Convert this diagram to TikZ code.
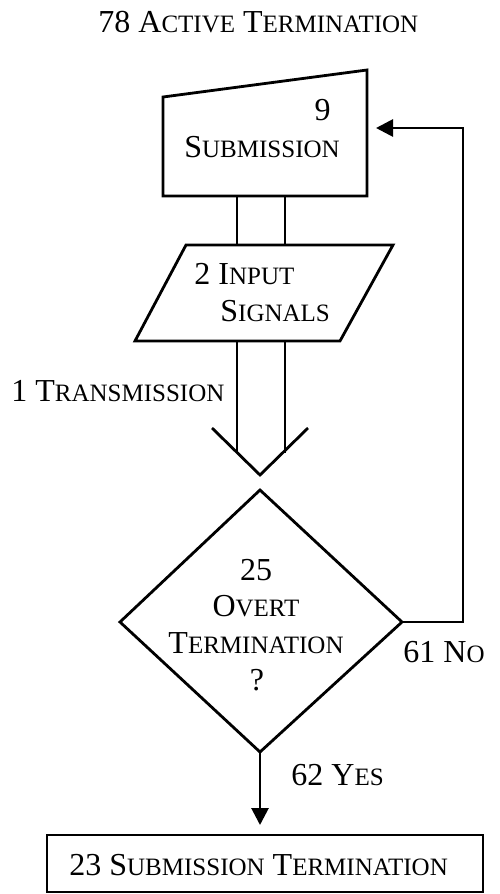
\documentclass[tikz,border=0pt]{standalone}
\usepackage{fontspec}
\setmainfont{Liberation Serif}
\usetikzlibrary{arrows.meta}
\newcommand{\smc}[1]{{\fontsize{25}{29}\selectfont #1}}
\begin{document}
\begin{tikzpicture}[x=1pt,y=-1pt,line width=2.8pt,
  lbl/.style={font=\fontsize{32}{37}\selectfont, inner sep=0pt, anchor=base west},
  clbl/.style={font=\fontsize{32}{37}\selectfont, inner sep=0pt, anchor=base},
  tip/.style={-{Triangle[length=17pt,width=17pt]}}]
\useasboundingbox (0,0) rectangle (500,894);
% title
\node[lbl] (title) at (97,32) {78 A\smc{CTIVE} T\smc{ERMINATION}};
% submission (manual input)
\coordinate (s1) at (163,97);
\coordinate (s2) at (367,70);
\coordinate (s3) at (367,196);
\coordinate (s4) at (163,196);
\draw (s1) -- (s2) -- (s3) -- (s4) -- cycle;
\node[lbl, anchor=base east] (n9) at (332,120) {9};
\node[lbl] (sub) at (183,157) {S\smc{UBMISSION}};
% input signals (parallelogram)
\coordinate (p1) at (186,245);
\coordinate (p2) at (393,245);
\coordinate (p3) at (340,341);
\coordinate (p4) at (135,341);
\draw (p1) -- (p2) -- (p3) -- (p4) -- cycle;
\node[lbl] (in1) at (193,284) {2 I\smc{NPUT}};
\node[lbl] (in2) at (219,321) {S\smc{IGNALS}};
% connectors between submission and input
\coordinate (a1) at (237,196);
\coordinate (a2) at (285,196);
\coordinate (b1) at (237,245);
\coordinate (b2) at (285,245);
\draw (a1) -- (b1);
\draw (a2) -- (b2);
% transmission double arrow
\coordinate (c1) at (237,341);
\coordinate (c2) at (285,341);
\coordinate (d1) at (237,453);
\coordinate (d2) at (285,453);
\coordinate (vl) at (212,428);
\coordinate (vt) at (260,475);
\coordinate (vr) at (308,428);
\draw (c1) -- (d1);
\draw (c2) -- (d2);
\draw (vl) -- (vt) -- (vr);
\node[lbl] (trans) at (10,401) {1 T\smc{RANSMISSION}};
% decision diamond
\coordinate (dt) at (260,490);
\coordinate (dl) at (120,622);
\coordinate (dr) at (402,622);
\coordinate (db) at (260,752);
\draw (dt) -- (dr) -- (db) -- (dl) -- cycle;
\node[clbl] (q1) at (256,580) {25};
\node[clbl] (q2) at (256,616) {O\smc{VERT}};
\node[clbl] (q3) at (256,653) {T\smc{ERMINATION}};
\node[clbl] (q4) at (257,690) {?};
% no branch
\coordinate (r1) at (463,622);
\coordinate (r2) at (463,128);
\coordinate (r3) at (376,128);
\draw[tip] (dr) -- (r1) -- (r2) -- (r3);
\node[lbl] (no) at (402,662) {61 N\smc{O}};
% yes branch
\coordinate (y1) at (260,825);
\draw[tip] (db) -- (y1);
\node[lbl] (yes) at (290,785) {62 Y\smc{ES}};
% termination box
\coordinate (t1) at (47,835);
\coordinate (t2) at (483,892);
\draw (t1) rectangle (t2);
\node[lbl] (term) at (68,875) {23 S\smc{UBMISSION} T\smc{ERMINATION}};
\end{tikzpicture}
\end{document}
